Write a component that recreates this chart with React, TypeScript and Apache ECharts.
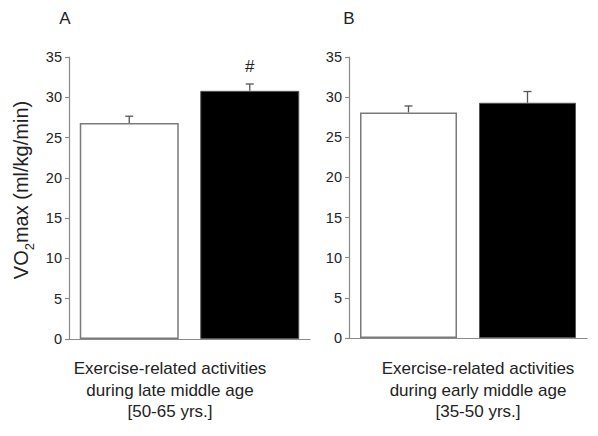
import React, { useEffect, useRef } from "react";
import * as echarts from "echarts";

const categories = ["Inactive", "Active"];
const panelAMeans = [26.8, 30.8];
const panelAErrors = [0.85, 0.85];
const panelBMeans = [28.1, 29.3];
const panelBErrors = [0.8, 1.4];
const yTicks = [0, 5, 10, 15, 20, 25, 30, 35];
const panelALabel = "A";
const panelBLabel = "B";
const panelAXLabel = ["Exercise-related activities", "during late middle age", "[50-65 yrs.]"];
const panelBXLabel = ["Exercise-related activities", "during early middle age", "[35-50 yrs.]"];
const significance = ["", "#"];

const FONT = "Liberation Sans, Arial, sans-serif";
const AXIS_COLOR = "#8a8a8a";
const TEXT_COLOR = "#222";

function barData(means: number[]) {
  return means.map((v, i) => ({
    value: v,
    itemStyle:
      i === 0
        ? { color: "#ffffff", borderColor: "#7a7a7a", borderWidth: 1.5 }
        : { color: "#000000", borderColor: "#555", borderWidth: 1 },
  }));
}

function errorSeries(means: number[], errs: number[], idx: number, marks: string[] | null) {
  return {
    type: "custom",
    xAxisIndex: idx,
    yAxisIndex: idx,
    z: 10,
    data: means.map((m, i) => [i, m, errs[i]]),
    renderItem: (params: any, api: any) => {
      const i = api.value(0);
      const m = api.value(1);
      const e = api.value(2);
      const base = api.coord([i, m]);
      const top = api.coord([i, m + e]);
      const children: any[] = [
        {
          type: "line",
          shape: { x1: base[0], y1: base[1], x2: top[0], y2: top[1] },
          style: { stroke: "#555", lineWidth: 1.3 },
        },
        {
          type: "line",
          shape: { x1: top[0] - 4, y1: top[1], x2: top[0] + 4, y2: top[1] },
          style: { stroke: "#555", lineWidth: 1.3 },
        },
      ];
      if (marks && marks[i]) {
        children.push({
          type: "text",
          x: top[0],
          y: top[1] - 17,
          style: {
            text: marks[i],
            fill: TEXT_COLOR,
            font: `17px ${FONT}`,
            align: "center",
            verticalAlign: "middle",
          },
        });
      }
      return { type: "group", children };
    },
  };
}

function yAxisCfg(gridIndex: number) {
  return {
    type: "value",
    gridIndex,
    min: yTicks[0],
    max: yTicks[yTicks.length - 1],
    interval: yTicks[1] - yTicks[0],
    axisLine: { show: true, lineStyle: { color: AXIS_COLOR, width: 1.2 } },
    axisTick: { show: true, length: 4, lineStyle: { color: AXIS_COLOR, width: 1.2 } },
    axisLabel: { color: TEXT_COLOR, fontSize: 14.5, fontFamily: FONT, margin: 7 },
    splitLine: { show: false },
  };
}

function xAxisCfg(gridIndex: number) {
  return {
    type: "category",
    gridIndex,
    data: categories,
    axisLine: { show: true, lineStyle: { color: AXIS_COLOR, width: 1.2 } },
    axisTick: { show: false },
    axisLabel: { show: false },
  };
}

export default function App() {
  const ref = useRef<HTMLDivElement>(null);
  useEffect(() => {
    document.body.style.margin = "0";
    if (!ref.current) return;
    const chart = echarts.init(ref.current, undefined, { renderer: "svg" });
    const multiline = (lines: string[], x: number) => ({
      type: "text",
      x,
      y: 358,
      style: {
        text: lines.join("\n"),
        fill: TEXT_COLOR,
        font: `17px ${FONT}`,
        lineHeight: 21.5,
        align: "center",
        verticalAlign: "top",
      },
    });
    chart.setOption({
      animation: false,
      backgroundColor: "#ffffff",
      grid: [
        { left: 69, top: 57, width: 241, height: 282 },
        { left: 349, top: 57, width: 238, height: 281 },
      ],
      xAxis: [xAxisCfg(0), xAxisCfg(1)],
      yAxis: [yAxisCfg(0), yAxisCfg(1)],
      series: [
        { type: "bar", xAxisIndex: 0, yAxisIndex: 0, data: barData(panelAMeans), barWidth: 99 },
        { type: "bar", xAxisIndex: 1, yAxisIndex: 1, data: barData(panelBMeans), barWidth: 97 },
        errorSeries(panelAMeans, panelAErrors, 0, significance),
        errorSeries(panelBMeans, panelBErrors, 1, null),
      ],
      graphic: [
        {
          type: "text",
          x: 65,
          y: 18,
          style: { text: panelALabel, fill: TEXT_COLOR, font: `17px ${FONT}`, align: "center", verticalAlign: "middle" },
        },
        {
          type: "text",
          x: 349,
          y: 18,
          style: { text: panelBLabel, fill: TEXT_COLOR, font: `17px ${FONT}`, align: "center", verticalAlign: "middle" },
        },
        {
          type: "text",
          x: 20,
          y: 190,
          rotation: Math.PI / 2,
          style: {
            text: "{m|VO}{s|2}{m|max (ml/kg/min)}",
            align: "center",
            verticalAlign: "middle",
            rich: {
              m: { fontSize: 20, fontFamily: FONT, fill: TEXT_COLOR, verticalAlign: "bottom", lineHeight: 22 },
              s: { fontSize: 13, fontFamily: FONT, fill: TEXT_COLOR, verticalAlign: "bottom", lineHeight: 14, padding: [0, 0, -5, 0] },
            },
          },
        },
        multiline(panelAXLabel, 170),
        multiline(panelBXLabel, 478),
      ],
    });
    return () => chart.dispose();
  }, []);
  return <div ref={ref} style={{ width: 598, height: 436 }} />;
}
